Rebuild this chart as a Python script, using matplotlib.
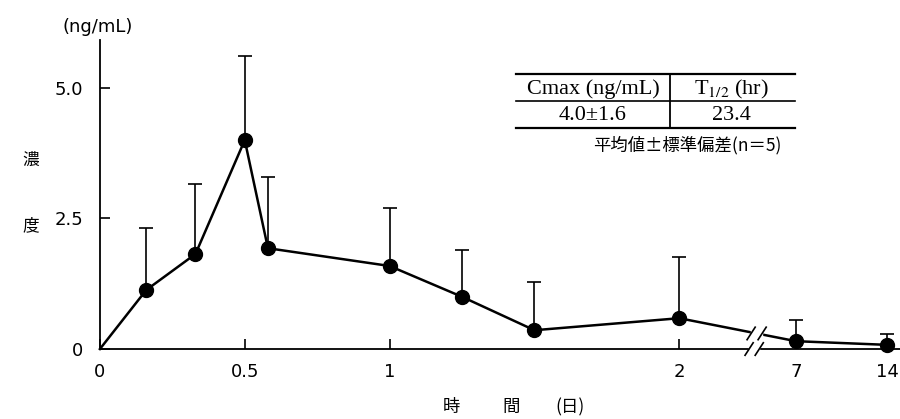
import numpy as np
import matplotlib.pyplot as plt
from matplotlib.lines import Line2D
from matplotlib.patches import Rectangle

plt.rcParams['mathtext.fontset'] = 'stix'

# time (days), mean concentration (ng/mL), upper SD
days = [0, 0.16, 0.33, 0.5, 0.58, 1, 1.25, 1.5, 2, 7, 14]
conc = [0, 1.13, 1.82, 4.0, 1.93, 1.59, 1.0, 0.36, 0.59, 0.15, 0.08]
sd = [0, 1.19, 1.34, 1.61, 1.37, 1.11, 0.9, 0.92, 1.17, 0.41, 0.21]
xticks = [0, 0.5, 1, 2, 7, 14]
xticklabels = ['0', '0.5', '1', '2', '7', '14']
yticks = [0, 2.5, 5.0]
yticklabels = ['0', '2.5', '5.0']


# broken time axis: 0-2 days linear, then compressed after the break
def fwd(x):
    x = np.asarray(x, float)
    return np.where(x <= 2, x,
                    np.where(x <= 7, 2 + (x - 2) * 0.403 / 5,
                             2.403 + (x - 7) * 0.314 / 7))


def inv(p):
    p = np.asarray(p, float)
    return np.where(p <= 2, p,
                    np.where(p <= 2.403, 2 + (p - 2) * 5 / 0.403,
                             7 + (p - 2.403) * 7 / 0.314))


tick_font = dict(family='DejaVu Sans', size=13)
cjk = ['Noto Sans CJK JP', 'DejaVu Sans']

fig = plt.figure(figsize=(9, 4.19), dpi=100)
ax = fig.add_axes([0.111, 0.167, 0.889, 0.738])
ax.set_xscale('function', functions=(fwd, inv))
ax.set_xlim(0, 15)
ax.set_ylim(0, 5.92)

ax.plot(days, conc, color='black', lw=1.8, marker='o', ms=10, zorder=3,
        markevery=list(range(1, len(days))), clip_on=False)
ax.errorbar(days[1:], conc[1:], yerr=[np.zeros(len(sd) - 1), sd[1:]],
            fmt='none', ecolor='black', elinewidth=1.2, capsize=5,
            capthick=1.2, zorder=2)

for s in ['top', 'right']:
    ax.spines[s].set_visible(False)
for s in ['left', 'bottom']:
    ax.spines[s].set_linewidth(1.3)

ax.set_xticks(xticks)
ax.set_xticklabels(xticklabels, **tick_font)
ax.set_yticks(yticks)
ax.set_yticklabels(yticklabels, **tick_font)
ax.tick_params(direction='in', length=7, width=1.2)
ax.tick_params(axis='x', pad=10)
ax.tick_params(axis='y', pad=12)

# axis break marks
yl = np.interp(2.267, fwd([2, 7]), [conc[8], conc[9]])
for p0, p1, yc, hw in [(2.248, 2.286, yl, 0.22), (2.241, 2.276, 0.0, 0.13)]:
    ax.add_patch(Rectangle((float(inv(p0)), yc - hw), float(inv(p1) - inv(p0)),
                           2 * hw, color='white', zorder=4, clip_on=False))
    for p in (p0, p1):
        ax.add_line(Line2D([float(inv(p - 0.014)), float(inv(p + 0.014))],
                           [yc - 0.12, yc + 0.12], color='black', lw=1.2,
                           zorder=5, clip_on=False))

px = lambda x: x / 900
py = lambda y: 1 - y / 419

fig.text(px(63), py(27), '(ng/mL)', ha='left', va='center', **tick_font)
fig.text(px(31), py(160), '濃', ha='center', va='center', family=cjk, size=12)
fig.text(px(31), py(226), '度', ha='center', va='center', family=cjk, size=12)
fig.text(px(451), py(407), '時', ha='center', va='center', family=cjk, size=12.5)
fig.text(px(511), py(407), '間', ha='center', va='center', family=cjk, size=12.5)
fig.text(px(570), py(407), '(日)', ha='center', va='center', family=cjk, size=12.5)

# summary table
for yy in (74, 101, 128):
    fig.add_artist(Line2D([px(516), px(795)], [py(yy), py(yy)], color='black',
                          lw=1.6 if yy != 101 else 1.2))
fig.add_artist(Line2D([px(670), px(670)], [py(74), py(128)], color='black', lw=1.3))
serif = dict(family='Liberation Serif', size=16, ha='center', va='center')
fig.text(px(593), py(89), 'Cmax (ng/mL)', **serif)
fig.text(px(731), py(89), r'T$_{\mathrm{1/2}}$ (hr)', **serif)
fig.text(px(593), py(116), '4.0±1.6', **serif)
fig.text(px(731), py(116), '23.4', **serif)
fig.text(px(781), py(145), '平均値±標準偏差(n＝5)', ha='right', va='center',
         family=cjk, size=12.5)

fig.savefig('out.png')
